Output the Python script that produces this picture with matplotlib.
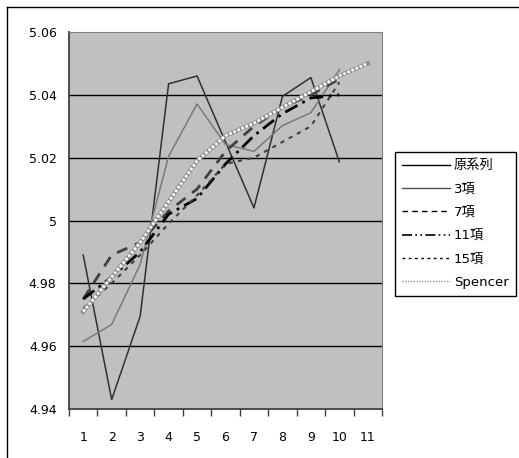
import numpy as np
import matplotlib.pyplot as plt
from matplotlib.lines import Line2D

plt.rcParams['font.family'] = ['DejaVu Sans', 'Noto Sans CJK JP']

# data
x = list(range(1, 12))
orig = [4.989, 4.943, 4.9695, 5.0435, 5.046, 5.025, 5.004, 5.0395, 5.0455, 5.0187]
ma3 = [4.9615, 4.9669, 4.986, 5.0204, 5.0371, 5.0242, 5.022, 5.0302, 5.0343, 5.048]
ma7 = [4.975, 4.989, 4.993, 5.003, 5.010, 5.022, 5.030, 5.036, 5.040, 5.045]
ma11 = [4.975, 4.982, 4.990, 5.002, 5.007, 5.018, 5.027, 5.034, 5.039, 5.040]
ma15 = [4.972, 4.980, 4.989, 4.999, 5.008, 5.018, 5.020, 5.025, 5.030, 5.044]
spencer = [4.971, 4.982, 4.993, 5.006, 5.019, 5.027, 5.031, 5.036, 5.041, 5.046, 5.050]
labels = ['原系列', '3項', '7項', '11項', '15項', 'Spencer']

fig = plt.figure(figsize=(5.19, 4.58), dpi=100)
fig.patch.set_facecolor('white')
W, H = 519, 458
ax = fig.add_axes([69 / W, (H - 409) / H, 313 / W, 377 / H])
ax.set_facecolor('#c0c0c0')

for yv in [4.96, 4.98, 5.0, 5.02, 5.04]:
    ax.axhline(yv, color='black', lw=1, zorder=1)

n = len(orig)
ax.plot(x[:n], orig, color='#303030', lw=1.1, zorder=3)
ax.plot(x[:n], ma3, color='#7a7a7a', lw=1.1, zorder=3)
ax.plot(x[:n], ma7, color='#404040', lw=2, ls=(0, (4, 3)), zorder=3)
ax.plot(x[:n], ma11, color='black', lw=2, ls=(0, (5, 2, 1, 2)), zorder=3)
ax.plot(x[:n], ma15, color='#404040', lw=1.5, ls=(0, (2, 2.5)), zorder=3)
ax.plot(x, spencer, color='#8a8a8a', lw=3, zorder=4)
ax.plot(x, spencer, color='white', lw=2, ls=(0, (1, 0.6)), zorder=5)

ax.set_xlim(0.5, 11.5)
ax.set_ylim(4.94, 5.06)
ax.set_yticks([4.94, 4.96, 4.98, 5.0, 5.02, 5.04, 5.06])
ax.set_yticklabels(['4.94', '4.96', '4.98', '5', '5.02', '5.04', '5.06'])
ax.set_xticks(x)
ax.set_xticklabels([str(i) for i in x])
ax.set_xticks(np.arange(0.5, 12, 1), minor=True)
ax.tick_params(axis='x', which='major', length=0, pad=16, labelsize=9)
ax.tick_params(axis='x', which='minor', length=5, width=1, color='#404040', direction='out')
ax.tick_params(axis='y', length=0, pad=9, labelsize=9)
for s in ['top', 'right']:
    ax.spines[s].set_color('#808080')
for s in ['left', 'bottom']:
    ax.spines[s].set_color('#404040')
    ax.spines[s].set_linewidth(1.3)

# legend handles: thin lines like the reference
handles = [Line2D([], [], color='black', lw=1),
           Line2D([], [], color='#505050', lw=1),
           Line2D([], [], color='black', lw=1, ls=(0, (4, 3))),
           Line2D([], [], color='black', lw=1.2, ls=(0, (6, 2, 1, 2, 1, 2))),
           Line2D([], [], color='black', lw=1, ls=(0, (2, 2.5))),
           Line2D([], [], color='#909090', lw=1, ls=(0, (1, 1)))]
leg = fig.legend(handles, labels,
                 loc='center left', bbox_to_anchor=(395 / W, (H - 224) / H),
                 fontsize=9.5, handlelength=3.6, handletextpad=0.3,
                 labelspacing=0.78, borderpad=0.55, borderaxespad=0,
                 fancybox=False, frameon=True, edgecolor='black', framealpha=1)
leg.get_frame().set_linewidth(1)

# outer chart border (left and top visible)
fig.add_artist(Line2D([7 / W, 7 / W], [0, (H - 7) / H], color='black', lw=1))
fig.add_artist(Line2D([7 / W, 1], [(H - 7) / H, (H - 7) / H], color='black', lw=1))

fig.savefig('out.png', dpi=100)
